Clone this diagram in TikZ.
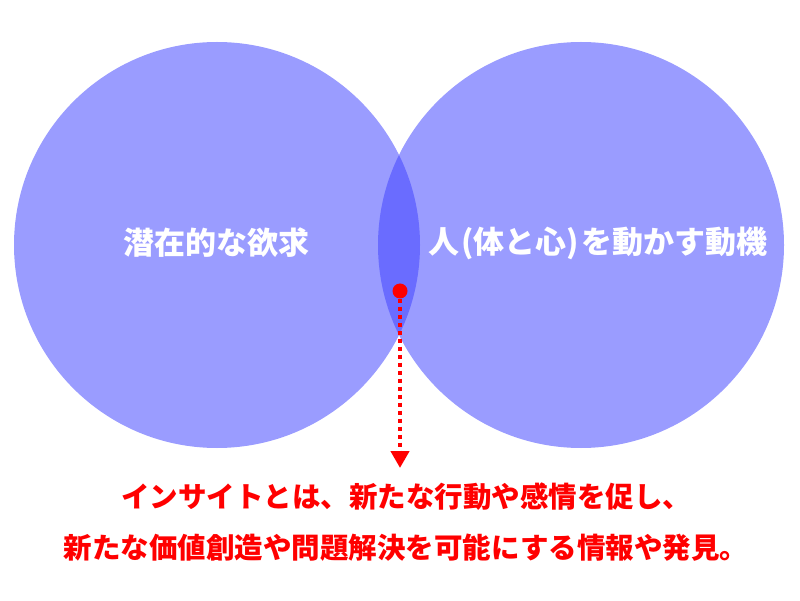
\documentclass[tikz,border=0pt]{standalone}
\usepackage{fontspec}
\newfontfamily\cjk{Noto Sans CJK JP}
\usetikzlibrary{arrows.meta}
\definecolor{circleblue}{RGB}{154,156,255}
\definecolor{overlapblue}{RGB}{106,108,255}
\definecolor{insightred}{RGB}{255,0,0}

\begin{document}
\begin{tikzpicture}[
    x=1pt, y=1pt,
    set/.style={circle,fill=circleblue,minimum size=406pt,inner sep=0pt},
    setlabel/.style={text=white,font=\cjk\bfseries\fontsize{31}{36}\selectfont},
    note/.style={text=insightred,align=center,font=\cjk\bfseries\fontsize{28.5}{51}\selectfont},
    pointer/.style={insightred,line width=4.5pt,dash pattern=on 4pt off 4pt,
                    -{Triangle[width=18pt,length=17pt]}}]
    \useasboundingbox (0,0) rectangle (800,600);

    % Kreise
    \node[set] (desire) at (217,355) {};
    \node[set] (motive) at (581,355) {};

    % Schnittmenge
    \begin{scope}
        \clip (desire.center) circle (203pt);
        \fill[overlapblue] (motive.center) circle (203pt);
    \end{scope}

    % Beschriftungen
    \node[setlabel] (desirelabel) at (216,357) {潜在的な欲求};
    \node[setlabel] (motivelabel) at (598,357) {人\kern2pt(体と心)\kern2pt を動かす動機};

    % Zeiger
    \node[circle,fill=insightred,inner sep=0pt,minimum size=15pt] (spot) at (400,309) {};
    \coordinate (tip) at (400,132);
    \draw[pointer] (spot) -- (tip);

    % Erklaerung
    \node[note] (insight) at (406,78) {インサイトとは、新たな行動や感情を促し、\\新たな価値創造や問題解決を可能にする情報や発見。};
\end{tikzpicture}
\end{document}
